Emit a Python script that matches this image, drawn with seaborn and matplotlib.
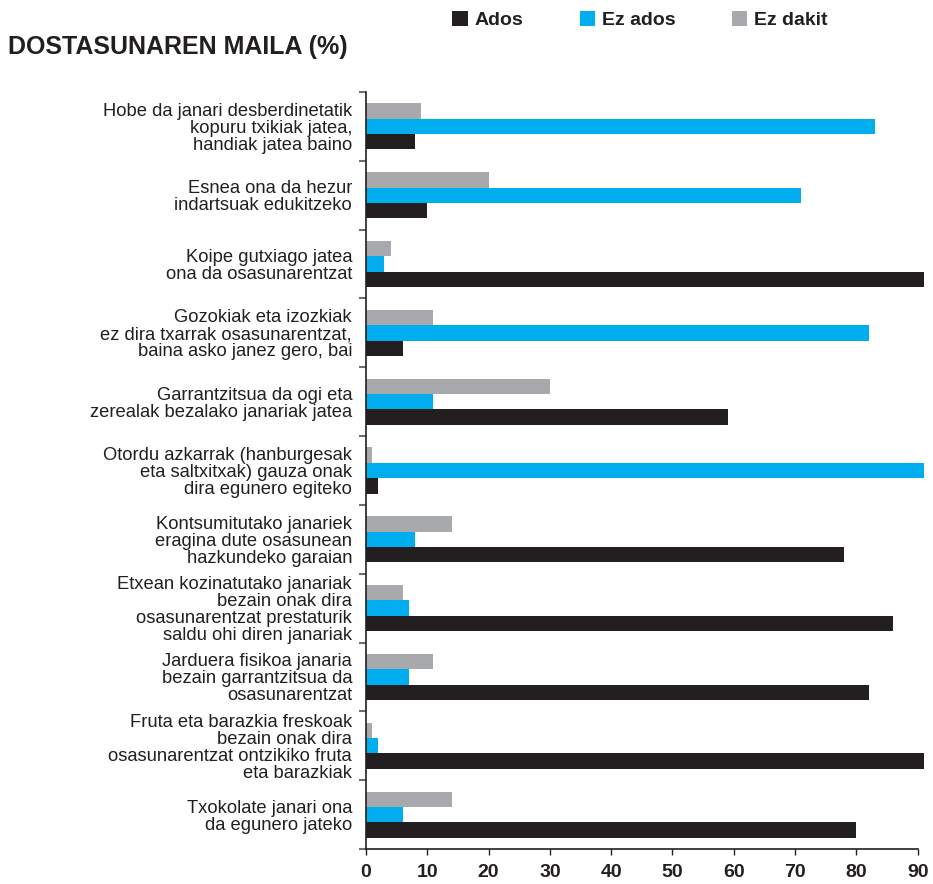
import matplotlib
matplotlib.use("Agg")
import matplotlib.pyplot as plt
from matplotlib.patches import Patch
from matplotlib.ticker import FixedLocator
import seaborn as sns
import pandas as pd

# Data
statements = [
    "Hobe da janari desberdinetatik\nkopuru txikiak jatea,\nhandiak jatea baino",
    "Esnea ona da hezur\nindartsuak edukitzeko",
    "Koipe gutxiago jatea\nona da osasunarentzat",
    "Gozokiak eta izozkiak\nez dira txarrak osasunarentzat,\nbaina asko janez gero, bai",
    "Garrantzitsua da ogi eta\nzerealak bezalako janariak jatea",
    "Otordu azkarrak (hanburgesak\neta saltxitxak) gauza onak\ndira egunero egiteko",
    "Kontsumitutako janariek\neragina dute osasunean\nhazkundeko garaian",
    "Etxean kozinatutako janariak\nbezain onak dira\nosasunarentzat prestaturik\nsaldu ohi diren janariak",
    "Jarduera fisikoa janaria\nbezain garrantzitsua da\nosasunarentzat",
    "Fruta eta barazkia freskoak\nbezain onak dira\nosasunarentzat ontzikiko fruta\neta barazkiak",
    "Txokolate janari ona\nda egunero jateko",
]
ados = [8, 10, 91, 6, 59, 2, 78, 86, 82, 91, 80]
ez_ados = [83, 71, 3, 82, 11, 91, 8, 7, 7, 2, 6]
ez_dakit = [9, 20, 4, 11, 30, 1, 14, 6, 11, 1, 14]

series_names = ["Ados", "Ez ados", "Ez dakit"]
colors = {"Ados": "#231f20", "Ez ados": "#00aeef", "Ez dakit": "#a7a9ac"}
x_ticks = [0, 10, 20, 30, 40, 50, 60, 70, 80, 90]

# Long format table for seaborn
df = pd.DataFrame({
    "statement": statements * 3,
    "value": ados + ez_ados + ez_dakit,
    "series": ["Ados"] * len(statements) + ["Ez ados"] * len(statements)
              + ["Ez dakit"] * len(statements),
})

sns.set_style("white")
plt.rcParams["font.family"] = ["Liberation Sans", "DejaVu Sans"]

fig = plt.figure(figsize=(9.33, 8.84), dpi=100)
ax = fig.add_axes([366 / 933, 1 - 849 / 884, (923.8 - 366) / 933, (849 - 92) / 884])

sns.barplot(data=df, y="statement", x="value", hue="series",
            order=statements, hue_order=["Ez dakit", "Ez ados", "Ados"],
            palette=colors, orient="h", width=0.67, gap=0,
            linewidth=0, saturation=1, legend=False, ax=ax)

ax.set_xlim(0, 91)
ax.set_ylim(len(statements) - 0.5, -0.5)
ax.set_xlabel("")
ax.set_ylabel("")

# Axes styling
sns.despine(ax=ax)
ax.spines["left"].set_color("#231f20")
ax.spines["bottom"].set_color("#231f20")
ax.spines["left"].set_linewidth(1.2)
ax.spines["bottom"].set_linewidth(1.2)
ax.spines["bottom"].set_bounds(0, 90)

ax.set_xticks(x_ticks)
ax.set_xticklabels([str(t) for t in x_ticks], fontsize=14, fontweight="bold",
                   color="#231f20")
ax.tick_params(axis="x", bottom=True, direction="out", length=4, width=1,
               color="#231f20", pad=7)

ax.tick_params(axis="y", which="major", left=True, length=0, labelsize=13.2,
               pad=10, labelcolor="#231f20")
ax.yaxis.set_minor_locator(FixedLocator([i - 0.5 for i in range(len(statements) + 1)]))
ax.tick_params(axis="y", which="minor", left=True, direction="out", length=5,
               width=1.5, color="#6d6e71")
for lbl in ax.get_yticklabels():
    lbl.set_linespacing(1.0)

# Title
fig.text(8 / 933, 1 - 47 / 884, "DOSTASUNAREN MAILA (%)", fontsize=18,
         fontweight="bold", color="#231f20", va="center", ha="left")

# Legend
handles = [Patch(facecolor=colors[s], edgecolor="none", label=s) for s in series_names]
leg = fig.legend(handles=handles, ncol=3, loc="center left",
                 bbox_to_anchor=(452 / 933, 1 - 20 / 884), frameon=False,
                 prop={"size": 14, "weight": "bold"}, handlelength=0.8,
                 handleheight=0.8, handletextpad=0.35, columnspacing=2.9,
                 borderpad=0, borderaxespad=0)
for t in leg.get_texts():
    t.set_color("#231f20")

fig.savefig("out.png", dpi=100)
